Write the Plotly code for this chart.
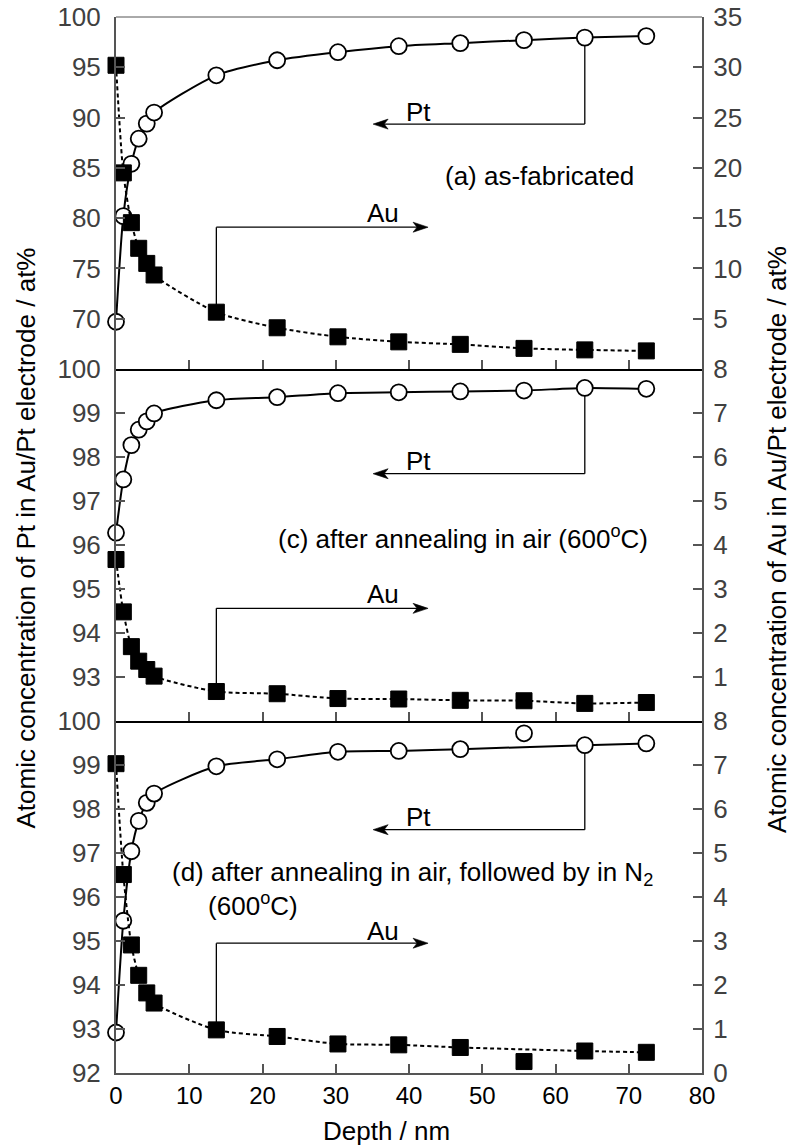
import plotly.graph_objects as go

# ---------------- data ----------------
depth = [0, 1.0, 2.1, 3.1, 4.2, 5.2, 13.7, 22.0, 30.3, 38.6, 47.0, 55.7, 64.0, 72.4]

pt_a = [69.7, 80.2, 85.4, 87.9, 89.4, 90.5, 94.2, 95.7, 96.5, 97.1, 97.4, 97.7, 97.95, 98.1]
au_a = [30.2, 19.5, 14.55, 12.0, 10.5, 9.35, 5.65, 4.1, 3.2, 2.7, 2.45, 2.05, 1.9, 1.8]

pt_c = [96.28, 97.49, 98.27, 98.62, 98.81, 98.99, 99.29, 99.36, 99.45, 99.47, 99.49, 99.51, 99.57, 99.55]
au_c = [3.67, 2.48, 1.69, 1.36, 1.17, 1.02, 0.67, 0.62, 0.51, 0.50, 0.47, 0.46, 0.40, 0.42]

pt_d = [92.92, 95.46, 97.04, 97.73, 98.14, 98.35, 98.97, 99.13, 99.30, 99.32, 99.36, 99.72, 99.45, 99.49]
au_d = [7.03, 4.51, 2.91, 2.22, 1.82, 1.59, 0.98, 0.83, 0.66, 0.64, 0.58, 0.26, 0.50, 0.47]

x_ticks = [0, 10, 20, 30, 40, 50, 60, 70, 80]
left_ticks_a = [70, 75, 80, 85, 90, 95, 100]
right_ticks_a = [5, 10, 15, 20, 25, 30, 35]
left_ticks_c = [93, 94, 95, 96, 97, 98, 99, 100]
right_ticks_c = [1, 2, 3, 4, 5, 6, 7, 8]
left_ticks_d = [92, 93, 94, 95, 96, 97, 98, 99, 100]
right_ticks_d = [0, 1, 2, 3, 4, 5, 6, 7, 8]

panel_labels = ["(a) as-fabricated",
                "(c) after annealing in air (600<sup>o</sup>C)",
                "(d) after annealing in air, followed by in N<sub>2</sub><br>"
                "&nbsp;&nbsp;&nbsp;&nbsp;&nbsp;(600<sup>o</sup>C)"]

FONT = "Liberation Sans, Arial, sans-serif"
GRAY = "#555555"
LBL = "#404040"
FS = 26

fig = go.Figure()

panels = [
    # xaxis, left y, right y, pt, au, outlier index excluded from fit line
    ("x", "y", "y2", pt_a, au_a, None),
    ("x2", "y3", "y4", pt_c, au_c, None),
    ("x3", "y5", "y6", pt_d, au_d, 11),
]

for xa, yl, yr, pt, au, skip in panels:
    idx = [i for i in range(len(depth)) if i != skip]
    lx = [depth[i] for i in idx]
    fig.add_trace(go.Scatter(x=lx, y=[pt[i] for i in idx], mode="lines",
                             line=dict(color="black", width=2, shape="spline", smoothing=0.7),
                             xaxis=xa, yaxis=yl, showlegend=False, hoverinfo="skip"))
    fig.add_trace(go.Scatter(x=lx, y=[au[i] for i in idx], mode="lines",
                             line=dict(color="black", width=2, dash="4px,3px", shape="spline", smoothing=0.7),
                             xaxis=xa, yaxis=yr, showlegend=False, hoverinfo="skip"))
    fig.add_trace(go.Scatter(x=depth, y=au, mode="markers", cliponaxis=False,
                             marker=dict(symbol="square", size=16, color="black",
                                         line=dict(color="black", width=1)),
                             xaxis=xa, yaxis=yr, showlegend=False))
    fig.add_trace(go.Scatter(x=depth, y=pt, mode="markers", cliponaxis=False,
                             marker=dict(symbol="circle", size=16, color="white",
                                         line=dict(color="black", width=1.8)),
                             xaxis=xa, yaxis=yl, showlegend=False))

xcommon = dict(range=[0, 80], tickvals=x_ticks, ticks="inside", ticklen=9, tickwidth=1.5,
               tickcolor=GRAY, showline=True, linewidth=2, showgrid=False, zeroline=False)
ycommon = dict(ticks="inside", ticklen=9, tickwidth=1.5, tickcolor=GRAY, showline=True,
               linecolor=GRAY, linewidth=2, showgrid=False, zeroline=False,
               tickfont=dict(size=FS, color=LBL, family=FONT))

fig.update_layout(
    width=793, height=1146,
    margin=dict(l=116, r=91, t=17, b=73, autoexpand=False),
    paper_bgcolor="white", plot_bgcolor="white",
    font=dict(family=FONT, color="black"),
    showlegend=False,
    xaxis=dict(domain=[0, 1], anchor="y", showticklabels=False, linecolor="black", **xcommon),
    xaxis2=dict(domain=[0, 1], anchor="y3", showticklabels=False, linecolor="black", **xcommon),
    xaxis3=dict(domain=[0, 1], anchor="y5", showticklabels=True, linecolor=GRAY,
                tickfont=dict(size=24, color="black", family=FONT), **xcommon),
    yaxis=dict(domain=[2/3, 1], anchor="x", range=[65, 100], tickvals=left_ticks_a,
               ticklabelstandoff=8, **ycommon),
    yaxis2=dict(overlaying="y", side="right", anchor="x", range=[0, 35], tickvals=right_ticks_a,
                ticklabelstandoff=4, **ycommon),
    yaxis3=dict(domain=[1/3, 2/3], anchor="x2", range=[92, 100], tickvals=left_ticks_c,
                ticklabelstandoff=8, **ycommon),
    yaxis4=dict(overlaying="y3", side="right", anchor="x2", range=[0, 8], tickvals=right_ticks_c,
                ticklabelstandoff=4, **ycommon),
    yaxis5=dict(domain=[0, 1/3], anchor="x3", range=[92, 100], tickvals=left_ticks_d,
                ticklabelstandoff=8, **ycommon),
    yaxis6=dict(overlaying="y5", side="right", anchor="x3", range=[0, 8], tickvals=right_ticks_d,
                ticklabelstandoff=4, **ycommon),
)

shapes = [dict(type="line", xref="paper", yref="paper", x0=0, x1=1, y0=1, y1=1,
               line=dict(color=GRAY, width=1))]
annotations = []

PT_TIP = 35.1   # depth where the Pt arrow ends
AU_TIP = 42.6   # depth where the Au arrow ends
LEFT_HEAD = "M0,0 L15,5 L11,0 L15,-5 Z"
RIGHT_HEAD = "M0,0 L-15,5 L-11,0 L-15,-5 Z"
conn_line = dict(color="black", width=1.3)

# connector geometry per panel: (xa, yl, yr, pt, au, pt_conn_y, au_conn_y, pt_txt_y, au_txt_y)
conns = [
    ("x", "y", "y2", pt_a, au_a, 89.35, 14.1, 90.6, 15.5),
    ("x2", "y3", "y4", pt_c, au_c, 97.62, 2.56, 97.9, 2.88),
    ("x3", "y5", "y6", pt_d, au_d, 97.53, 2.95, 97.82, 3.22),
]
for xa, yl, yr, pt, au, pcy, acy, pty, aty in conns:
    # Pt: down from marker at depth[12], then left to arrow head
    shapes.append(dict(type="line", xref=xa, yref=yl, x0=depth[12], x1=depth[12],
                       y0=pt[12], y1=pcy, line=conn_line, layer="below"))
    shapes.append(dict(type="line", xref=xa, yref=yl, x0=depth[12], x1=PT_TIP + 1.2,
                       y0=pcy, y1=pcy, line=conn_line))
    shapes.append(dict(type="path", xref=xa, yref=yl, xsizemode="pixel", ysizemode="pixel",
                       xanchor=PT_TIP, yanchor=pcy, path=LEFT_HEAD, fillcolor="black",
                       line=dict(color="black", width=0.6)))
    annotations.append(dict(xref=xa, yref=yl, x=41.25, y=pty, text="Pt", showarrow=False,
                            font=dict(size=FS, color="black", family=FONT)))
    # Au: up from marker at depth[6], then right to arrow head
    shapes.append(dict(type="line", xref=xa, yref=yr, x0=depth[6], x1=depth[6],
                       y0=au[6], y1=acy, line=conn_line, layer="below"))
    shapes.append(dict(type="line", xref=xa, yref=yr, x0=depth[6], x1=AU_TIP - 1.2,
                       y0=acy, y1=acy, line=conn_line))
    shapes.append(dict(type="path", xref=xa, yref=yr, xsizemode="pixel", ysizemode="pixel",
                       xanchor=AU_TIP, yanchor=acy, path=RIGHT_HEAD, fillcolor="black",
                       line=dict(color="black", width=0.6)))
    annotations.append(dict(xref=xa, yref=yr, x=36.5, y=aty, text="Au", showarrow=False,
                            font=dict(size=FS, color="black", family=FONT)))

annotations.append(dict(xref="x", yref="y", x=44.66, y=84.2, xanchor="left", text=panel_labels[0],
                        showarrow=False, font=dict(size=FS, color="black", family=FONT)))
annotations.append(dict(xref="x2", yref="y3", x=21.9, y=96.17, xanchor="left", text=panel_labels[1],
                        showarrow=False, font=dict(size=FS, color="black", family=FONT)))
annotations.append(dict(xref="x3", yref="y5", x=7.43, y=96.18, xanchor="left", align="left",
                        text=panel_labels[2], showarrow=False,
                        font=dict(size=FS, color="black", family=FONT)))

# axis titles
annotations.append(dict(xref="paper", yref="paper", x=(25 - 116) / 586, y=1 - (538.5 - 17) / 1056,
                        text="Atomic concentration of Pt in Au/Pt electrode / at%", textangle=-90,
                        showarrow=False, xanchor="center", yanchor="middle",
                        font=dict(size=FS, color="black", family=FONT)))
annotations.append(dict(xref="paper", yref="paper", x=(777 - 116) / 586, y=1 - (540 - 17) / 1056,
                        text="Atomic concentration of Au in Au/Pt electrode / at%", textangle=-90,
                        showarrow=False, xanchor="center", yanchor="middle",
                        font=dict(size=FS, color="black", family=FONT)))
annotations.append(dict(xref="paper", yref="paper", x=(386 - 116) / 586, y=1 - (1131 - 17) / 1056,
                        text="Depth / nm", showarrow=False, xanchor="center", yanchor="middle",
                        font=dict(size=FS, color="black", family=FONT)))

fig.update_layout(shapes=shapes, annotations=annotations)
fig.write_html("out.html")
